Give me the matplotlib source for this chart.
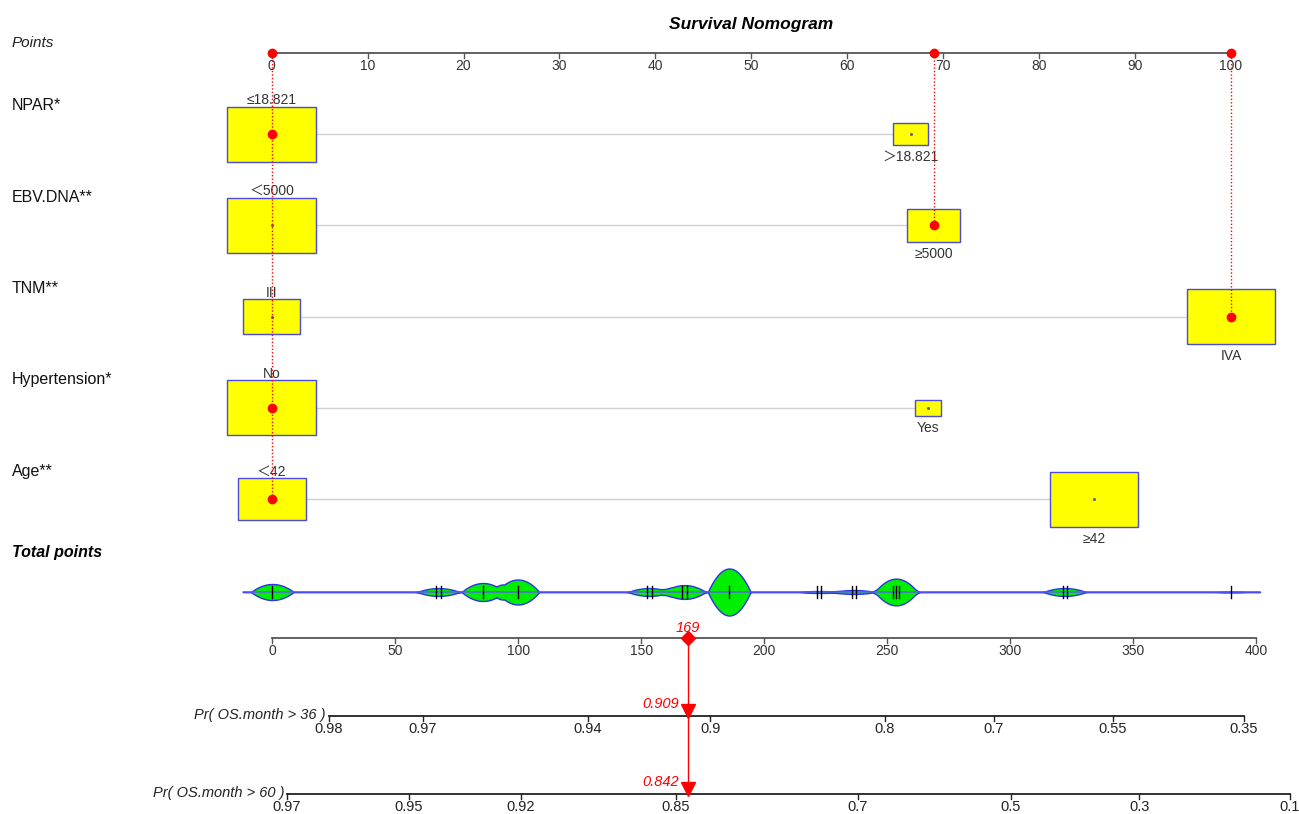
import numpy as np
import matplotlib
matplotlib.use("Agg")
import matplotlib.pyplot as plt
from matplotlib.patches import Rectangle

plt.rcParams['font.family'] = ['Liberation Sans', 'Noto Sans CJK SC', 'DejaVu Sans']

# ---------------- data ----------------
variables = ["NPAR*", "EBV.DNA**", "TNM**", "Hypertension*", "Age**"]
level_labels = [["≤18.821", "＞18.821"],
                ["＜5000", "≥5000"],
                ["III", "IVA"],
                ["No", "Yes"],
                ["＜42", "≥42"]]
level_points = [[0, 66.6], [0, 69.0], [0, 100.0], [0, 68.4], [0, 85.7]]
level_freq = [[0.868, 0.132], [0.735, 0.265], [0.29, 0.71], [0.922, 0.078], [0.37, 0.63]]
selected_level = [0, 1, 1, 0, 0]

points_ticks = list(range(0, 101, 10))
total_ticks = list(range(0, 401, 50))

# observed total-point scores and patient counts at each score
score_values = [0, 66.4, 68.7, 85.6, 99.8, 152.1, 154.3, 166.6, 168.4, 185.7,
                221.3, 223.0, 235.5, 237.2, 252.4, 253.5, 254.7, 321.2, 322.9, 389.6]
score_counts = [16, 4, 4, 18, 25, 4, 4, 7, 7, 47,
                1, 1, 2, 2, 9, 9, 9, 4, 4, 1]

pr36_labels = ["0.98", "0.97", "0.94", "0.9", "0.8", "0.7", "0.55", "0.35"]
pr36_points = [23.0, 61.2, 128.2, 178.0, 249.0, 293.2, 341.5, 394.8]
pr60_labels = ["0.97", "0.95", "0.92", "0.85", "0.7", "0.5", "0.3", "0.1"]
pr60_points = [6.0, 55.6, 101.0, 164.0, 238.0, 300.2, 352.4, 413.5]

pr36_at_total = 0.909
pr60_at_total = 0.842

# ---------------- layout ----------------
W, H = 1299, 814
P0, PSCALE = 271.7, 9.593      # pixel of 0 points, pixels per point
T0, TSCALE = 272.3, 2.4605     # pixel of 0 total points, pixels per total point
Y_POINTS = 52.7
ROW_Y = [134 + 91.3 * i for i in range(len(variables))]
Y_TOTAL_LABEL = 553
Y_VIOLIN = 592
Y_TOTAL = 637.7
Y_PR36 = 716
Y_PR60 = 794
BOX_W, BOX_H = 88.5, 55.0
KERNEL_HALF = 8.7
DENS_PX = 0.5
LEFT_X = 12

fig = plt.figure(figsize=(W / 100, H / 100), dpi=100)

ax_p = fig.add_axes([0, 0, 1, 1])
ax_p.set_xlim(-P0 / PSCALE, (W - P0) / PSCALE)
ax_p.set_ylim(H, 0)
ax_p.axis('off')

ax_t = fig.add_axes([0, 0, 1, 1])
ax_t.set_xlim(-T0 / TSCALE, (W - T0) / TSCALE)
ax_t.set_ylim(H, 0)
ax_t.axis('off')
ax_t.patch.set_alpha(0)


def px_p(x):
    return (x - P0) / PSCALE


label_color = '#333333'

# title and row names
ax_p.text(px_p(751.5), 24, "Survival Nomogram", ha='center', va='center',
          fontsize=12.5, fontweight='bold', fontstyle='italic')
ax_p.text(px_p(LEFT_X), 43, "Points", ha='left', va='center',
          fontsize=11, fontstyle='italic', color='#222222')

# points scale
ax_p.plot([points_ticks[0], points_ticks[-1]], [Y_POINTS, Y_POINTS], color='#555555', lw=1.3, zorder=2)
for t in points_ticks:
    ax_p.plot([t, t], [Y_POINTS, Y_POINTS + 5], color='#555555', lw=1.0, zorder=2)
    ax_p.text(t, Y_POINTS + 13, str(t), ha='center', va='center', fontsize=10, color=label_color)

# variable rows
sel_pts = []
for i, var in enumerate(variables):
    y = ROW_Y[i]
    ax_p.text(px_p(LEFT_X), y - 28, var, ha='left', va='center', fontsize=11.5, color='#111111')
    pts = level_points[i]
    freqs = level_freq[i]
    fmax = max(freqs)
    ax_p.plot([pts[0], pts[-1]], [y, y], color='#D0D0D0', lw=1.0, zorder=1)
    for j, (p, f, lab) in enumerate(zip(pts, freqs, level_labels[i])):
        s = np.sqrt(f / fmax)
        w = BOX_W * s / PSCALE
        h = BOX_H * s
        ax_p.add_patch(Rectangle((p - w / 2, y - h / 2), w, h, facecolor='#FFFF00',
                                 edgecolor='#4B4BD6', lw=1.0, zorder=3))
        ax_p.plot(p, y, marker='o', ms=1.2, color='#666666', zorder=4)
        if j == 0:
            ax_p.text(p, y - h / 2 - 6.5, lab, ha='center', va='center', fontsize=10, color=label_color)
        else:
            ax_p.text(p, y + h / 2 + 12, lab, ha='center', va='center', fontsize=10, color=label_color)
    ps = pts[selected_level[i]]
    sel_pts.append(ps)
    ax_p.plot(ps, y, marker='o', ms=6, color='red', zorder=6)

# dotted guides from the points scale down to the chosen levels
for ps in sorted(set(sel_pts)):
    rows = [ROW_Y[i] for i in range(len(variables)) if sel_pts[i] == ps]
    ax_p.plot([ps, ps], [Y_POINTS, max(rows)], color='red', lw=1.0,
              linestyle=(0, (1, 1.5)), zorder=5)
    ax_p.plot(ps, Y_POINTS, marker='o', ms=6, color='red', zorder=6)

total_score = sum(sel_pts)

# total points density strip
ax_p.text(px_p(LEFT_X), Y_TOTAL_LABEL, "Total points", ha='left', va='center',
          fontsize=11.5, fontweight='bold', fontstyle='italic')
grid = np.linspace((243 - T0) / TSCALE, (1260 - T0) / TSCALE, 3000)
dens = np.zeros_like(grid)
for v, c in zip(score_values, score_counts):
    u = (grid - v) / KERNEL_HALF
    dens += c * np.clip(1 - u ** 2, 0, None)
half = dens * DENS_PX
ax_t.fill_between(grid, Y_VIOLIN - half, Y_VIOLIN + half, facecolor='#00EE00',
                  edgecolor='#3030F0', lw=1.0, zorder=2)
ax_t.plot(grid, np.full_like(grid, Y_VIOLIN), color='#5A5AF5', lw=1.0, zorder=2)
for v in score_values:
    ax_t.plot([v, v], [Y_VIOLIN - 6, Y_VIOLIN + 6], color='black', lw=1.0, zorder=3)

# total points scale
ax_t.plot([total_ticks[0], total_ticks[-1]], [Y_TOTAL, Y_TOTAL], color='#555555', lw=1.3)
for t in total_ticks:
    ax_t.plot([t, t], [Y_TOTAL, Y_TOTAL + 5], color='#555555', lw=1.0)
    ax_t.text(t, Y_TOTAL + 13, str(t), ha='center', va='center', fontsize=10, color=label_color)

# probability scales
for lab, pos, labels, y in [("Pr( OS.month > 36 )", pr36_points, pr36_labels, Y_PR36),
                            ("Pr( OS.month > 60 )", pr60_points, pr60_labels, Y_PR60)]:
    ax_t.plot([pos[0], pos[-1]], [y, y], color='#222222', lw=1.3)
    for p, l in zip(pos, labels):
        ax_t.plot([p, p], [y, y + 5], color='#222222', lw=1.0)
        ax_t.text(p, y + 13, l, ha='center', va='center', fontsize=10.5, color='#222222')
    ax_t.text(pos[0] - 3 / TSCALE, y - 1, lab, ha='right', va='center', fontsize=10.5,
              fontstyle='italic', color='#222222')

# chosen patient's total and predicted probabilities
ax_t.plot([total_score, total_score], [Y_TOTAL, Y_PR60 - 4], color='red', lw=1.0, zorder=4)
ax_t.plot(total_score, Y_TOTAL, marker='D', ms=7, color='red', zorder=5)
ax_t.text(total_score, Y_TOTAL - 10, f"{total_score:g}", ha='center', va='center',
          fontsize=10.5, fontstyle='italic', color='red')
for y, prob in [(Y_PR36, pr36_at_total), (Y_PR60, pr60_at_total)]:
    ax_t.plot(total_score, y - 5, marker='v', ms=10, color='red', zorder=5)
    ax_t.text(total_score - 9 / TSCALE, y - 12, f"{prob:.3f}", ha='right', va='center',
              fontsize=10.5, fontstyle='italic', color='red')

fig.savefig("out.png", dpi=100)
